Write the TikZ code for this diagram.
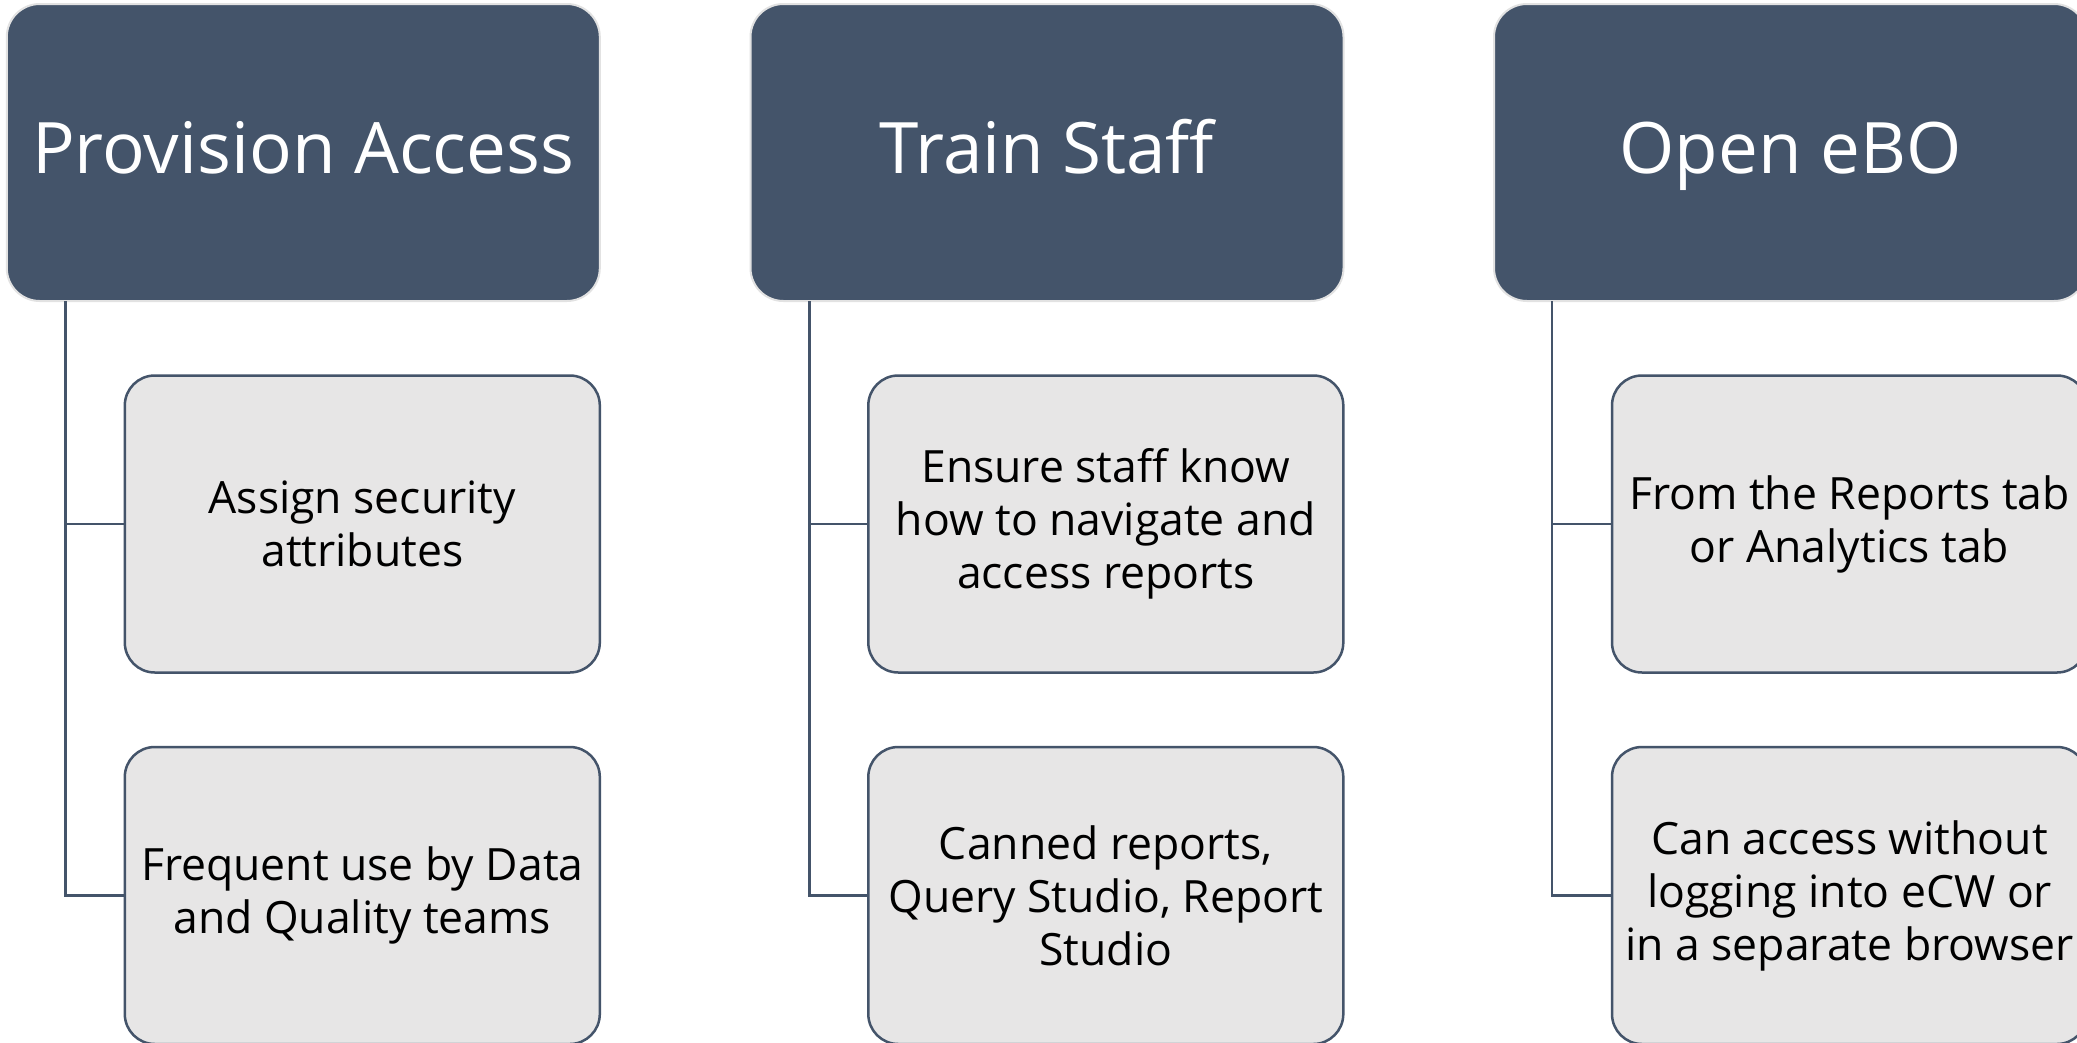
\documentclass[tikz,border=0pt]{standalone}
\usepackage{fontspec}
\setmainfont{Open Sans}
\newfontfamily\headfont{Open Sans}
\definecolor{hdr}{HTML}{44546A}
\definecolor{kid}{HTML}{E7E6E6}
\definecolor{hdrline}{HTML}{E2E2E2}
\begin{document}
\begin{tikzpicture}[x=1pt,y=-1pt,
  header/.style={draw=hdrline,line width=2pt,fill=hdr,rounded corners=33pt,
    minimum width=593pt,minimum height=297pt,inner sep=0pt,outer sep=0pt,
    text height=51pt,text depth=10pt,
    text=white,font=\headfont\fontsize{71}{80}\selectfont},
  child/.style={draw=hdr,line width=2.5pt,fill=kid,rounded corners=30pt,
    minimum width=475pt,minimum height=297pt,inner sep=0pt,outer sep=0pt,
    align=center,text=black,font=\fontsize{44.5}{53}\selectfont},
  link/.style={draw=hdr,line width=2.5pt}]
\useasboundingbox (0,0) rectangle (2077,1042);
\fill[white] (0,0) rectangle (2077,1042);
% headers
\node[header] (h1) at (303.3,152.5) {Provision Access};
\node[header] (h2) at (1047,152.5) {Train Staff};
\node[header] (h3) at (1790.5,152.5) {Open eBO};
% children
\node[child] (a1) at (362.3,524) {Assign security\\attributes};
\node[child] (a2) at (362.3,895.5) {Frequent use by Data\\and Quality teams};
\node[child] (b1) at (1105.8,524) {Ensure staff know\\how to navigate and\\access reports};
\node[child] (b2) at (1105.8,895.5) {Canned reports,\\Query Studio, Report\\Studio};
\node[child] (c1) at (1849.5,524) {From the Reports tab\\or Analytics tab};
\node[child] (c2) at (1849.5,895.5) {Can access without\\logging into eCW or\\in a separate browser};
% connectors
\coordinate (p1) at ([xshift=58.5pt]h1.south west);
\coordinate (p2) at ([xshift=59pt]h2.south west);
\coordinate (p3) at ([xshift=58pt]h3.south west);
\draw[link] (p1) |- (a2.west);
\draw[link] (p1) |- (a1.west);
\draw[link] (p2) |- (b2.west);
\draw[link] (p2) |- (b1.west);
\draw[link] (p3) |- (c2.west);
\draw[link] (p3) |- (c1.west);
\end{tikzpicture}
\end{document}
